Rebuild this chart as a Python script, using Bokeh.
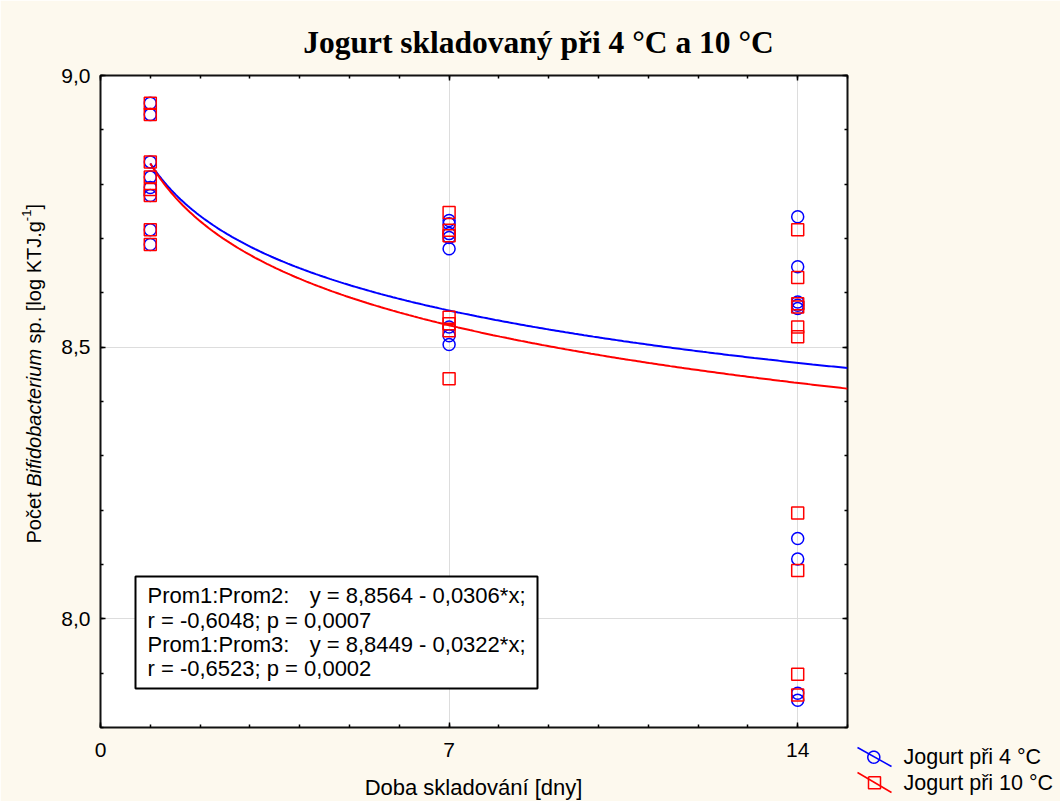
import numpy as np
from bokeh.plotting import figure
from bokeh.models import (Range1d, FixedTicker, CustomJSTickFormatter, LinearAxis,
                          BoxAnnotation)
from bokeh.core.properties import value
from bokeh.embed import file_html
from bokeh.resources import INLINE

# ---------------- data ----------------
title_text = "Jogurt skladovaný při 4 °C a 10 °C"
x_label_text = "Doba skladování [dny]"
y_label_parts = ["Počet", "Bifidobacterium", "sp. [log KTJ.g", "-1", "]"]
series_names = ["Jogurt při 4 °C", "Jogurt při 10 °C"]

days_4 = [1, 1, 1, 1, 1, 1, 1, 1,
          7, 7, 7, 7, 7, 7, 7, 7,
          14, 14, 14, 14, 14, 14, 14, 14, 14]
vals_4 = [8.949, 8.928, 8.841, 8.813, 8.794, 8.779, 8.716, 8.689,
          8.733, 8.727, 8.709, 8.702, 8.681, 8.537, 8.521, 8.505,
          8.740, 8.648, 8.583, 8.577, 8.571, 8.148, 8.110, 7.863, 7.850]

days_10 = [1, 1, 1, 1, 1, 1, 1, 1,
           7, 7, 7, 7, 7, 7, 7,
           14, 14, 14, 14, 14, 14, 14, 14, 14, 14]
vals_10 = [8.949, 8.928, 8.841, 8.813, 8.790, 8.779, 8.716, 8.689,
           8.748, 8.715, 8.705, 8.555, 8.543, 8.530, 8.442,
           8.716, 8.628, 8.580, 8.574, 8.537, 8.519, 8.195, 8.089, 7.898, 7.860]

# logarithmic fit curves y = a + b*ln(x), coefficients
fit_a = [8.838, 8.838]
fit_b = [-0.139, -0.153]
fit_x_range = [1, 15]

stat_prefix = ["Prom1:Prom2:", "Prom1:Prom3:"]
stat_eq = ["y = 8,8564 - 0,0306*x;", "y = 8,8449 - 0,0322*x;"]
stat_r = ["r = -0,6048; p = 0,0007", "r = -0,6523; p = 0,0002"]

x_major = [0, 7, 14]
x_minor = list(range(0, 16))
y_major = [8.0, 8.5, 9.0]
y_minor = [7.8, 7.9, 8.0, 8.1, 8.2, 8.3, 8.4, 8.5, 8.6, 8.7, 8.8, 8.9, 9.0]

# ---------------- layout ----------------
W, H = 1060, 801
FL, FR, FT, FB = 100, 847, 75, 727
XR = (0, 15)
YR = (7.8, 9.0)
BG = "#FDF9EE"
FONT = "Liberation Sans"


def dx(px):
    return XR[0] + (px - FL) / (FR - FL) * (XR[1] - XR[0])


def dy(py):
    return YR[1] - (py - FT) / (FB - FT) * (YR[1] - YR[0])


p = figure(width=W, height=H, output_backend="svg", toolbar_location=None,
           x_range=Range1d(*XR), y_range=Range1d(*YR),
           min_border_left=FL, min_border_right=W - FR,
           min_border_top=FT, min_border_bottom=H - FB)
p.background_fill_color = "white"
p.border_fill_color = BG
p.outline_line_color = "#111111"
p.outline_line_width = 2

xt = FixedTicker(ticks=x_major, minor_ticks=x_minor)
yt = FixedTicker(ticks=y_major, minor_ticks=y_minor)
yfmt = CustomJSTickFormatter(code="return tick.toFixed(1).replace('.', ',');")


def style_axis(ax, show_labels):
    ax.axis_line_color = None
    ax.major_tick_in = 5
    ax.major_tick_out = 0
    ax.minor_tick_in = 3
    ax.minor_tick_out = 0
    ax.major_tick_line_color = "black"
    ax.minor_tick_line_color = "black"
    ax.major_tick_line_width = 1.5
    ax.minor_tick_line_width = 1.5
    ax.major_label_text_font = FONT
    ax.major_label_text_font_size = "21px"
    ax.major_label_text_color = "black" if show_labels else None


p.xaxis.ticker = xt
p.yaxis.ticker = yt
p.yaxis.formatter = yfmt
style_axis(p.xaxis[0], True)
style_axis(p.yaxis[0], True)
p.xaxis.major_label_standoff = 15
p.yaxis.major_label_standoff = 10

top_ax = LinearAxis(ticker=xt)
style_axis(top_ax, False)
p.add_layout(top_ax, "above")
right_ax = LinearAxis(ticker=yt)
style_axis(right_ax, False)
p.add_layout(right_ax, "right")

p.xgrid.ticker = xt
p.ygrid.ticker = yt
p.grid.grid_line_color = "#DDDDDD"
p.grid.grid_line_width = 1

# ---------------- fit curves ----------------
colors = ["#0000FF", "#FF0000"]
markers = ["circle", "square"]
xs = np.linspace(fit_x_range[0], fit_x_range[1], 300)
for a, b, c in zip(fit_a, fit_b, colors):
    p.line(xs, a + b * np.log(xs), line_color=c, line_width=2)

# ---------------- points ----------------
p.scatter(days_4, vals_4, marker=markers[0], size=12, line_color=colors[0],
          fill_color=None, line_width=1.5)
p.scatter(days_10, vals_10, marker=markers[1], size=12, line_color=colors[1],
          fill_color=None, line_width=1.5)


def add_text(px, py, txt, size, style="normal", font=FONT, align="left",
             baseline="middle", angle=0.0):
    p.text(x=[dx(px)], y=[dy(py)], text=[txt], angle=angle,
           text_font=value(font), text_font_size=value(size),
           text_font_style=value(style), text_align=value(align),
           text_baseline=value(baseline), text_color="black", level="overlay")


# ---------------- stats box ----------------
p.add_layout(BoxAnnotation(left=dx(135), right=dx(537), top=dy(576), bottom=dy(688),
                           fill_color="white", fill_alpha=1, line_color="black",
                           line_alpha=1, line_width=2, level="annotation"))
line_y = [595, 620, 644, 668]
box_font = "22px"
for i in range(2):
    add_text(147, line_y[2 * i], stat_prefix[i], box_font)
    add_text(525, line_y[2 * i], stat_eq[i], box_font, align="right")
    add_text(147, line_y[2 * i + 1], stat_r[i], box_font)

# ---------------- title & axis labels ----------------
add_text(538, 42, title_text, "31.5px", style="bold", font="Liberation Serif",
         align="center")
add_text(473, 787, x_label_text, "22px", align="center")

# rotated y label in pieces (normal / italic / superscript)
ylab_x = 33
piece_start = [543, 486.3, 342.9, 220.7, 209.1]
piece_style = ["normal", "italic", "normal", "normal", "normal"]
piece_size = ["20px", "20px", "20px", "13px", "20px"]
piece_dx = [0, 0, 0, -7, 0]
for txt, y0, st, sz, ox in zip(y_label_parts, piece_start, piece_style, piece_size, piece_dx):
    add_text(ylab_x + ox, y0, txt, sz, style=st, angle=np.pi / 2)

# ---------------- legend (drawn by hand, Statistica style) ----------------
leg_centers = [(873.3, 756.7), (874.0, 782.3)]
leg_lines = [((857, 747), (891, 766)), ((857, 772), (891, 792))]
icon_r = 6.0
tt = np.linspace(0, 2 * np.pi, 41)
for name, mk, (cx, cy), ((x0, y0), (x1, y1)), c in zip(series_names, markers,
                                                         leg_centers, leg_lines, colors):
    p.segment(x0=[dx(x0)], y0=[dy(y0)], x1=[dx(x1)], y1=[dy(y1)],
              line_color=c, line_width=1.5, level="overlay")
    if mk == "circle":
        ix = [dx(cx + icon_r * np.cos(t)) for t in tt]
        iy = [dy(cy + icon_r * np.sin(t)) for t in tt]
    else:
        ix = [dx(cx - icon_r), dx(cx + icon_r), dx(cx + icon_r), dx(cx - icon_r), dx(cx - icon_r)]
        iy = [dy(cy - icon_r), dy(cy - icon_r), dy(cy + icon_r), dy(cy + icon_r), dy(cy - icon_r)]
    p.line(ix, iy, line_color=c, line_width=1.5, level="overlay")
    add_text(903, cy, name, "21.5px")

open("out.html", "w").write(file_html(p, INLINE))
